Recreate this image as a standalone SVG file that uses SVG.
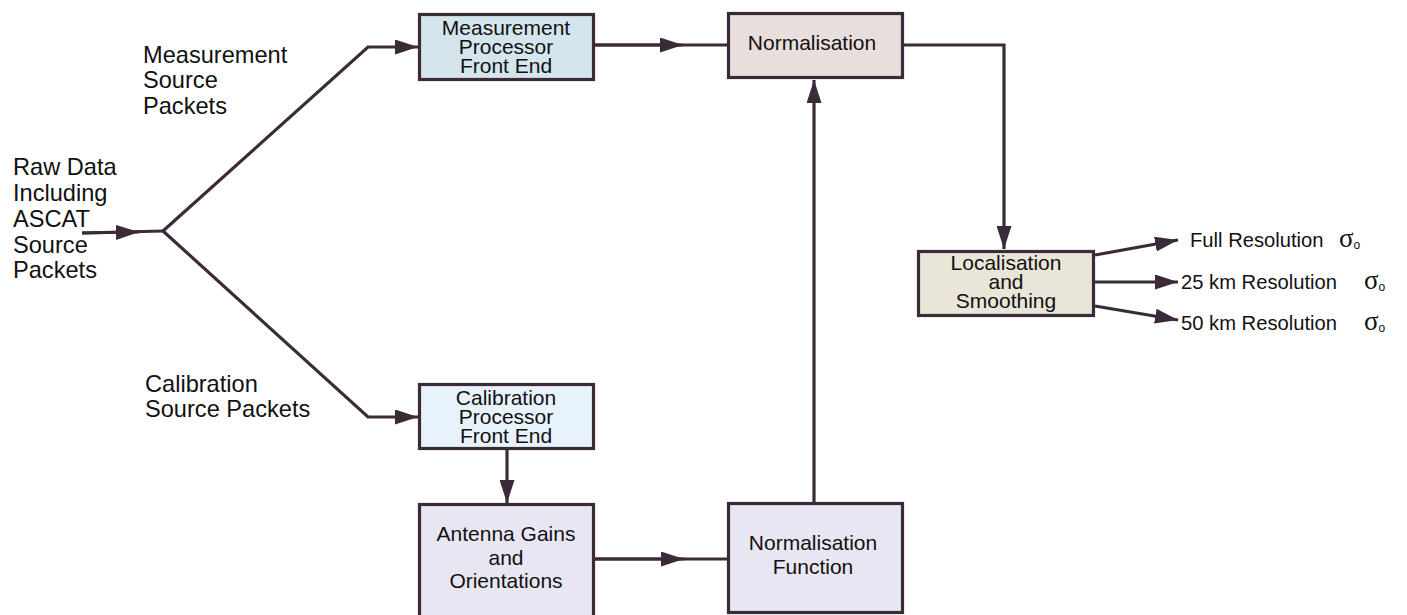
<svg xmlns="http://www.w3.org/2000/svg" width="1407" height="615" viewBox="0 0 1407 615">
<defs>
<style>
.box{stroke:#3b2a37;stroke-width:3.2}
.bt{font-family:"Liberation Sans",Arial,sans-serif;font-size:21px;fill:#111;text-anchor:middle}
.lt{font-family:"Liberation Sans",Arial,sans-serif;font-size:23.6px;fill:#111}
.ot{font-family:"Liberation Sans",Arial,sans-serif;font-size:20.2px;fill:#111}
.sg{font-family:"Liberation Serif","Times New Roman",serif;font-size:27px}
.sub{font-family:"Liberation Sans",Arial,sans-serif;font-size:12px}
.ln{fill:none;stroke:#3b2a37;stroke-width:3.2}
</style>
<marker id="ah" markerUnits="userSpaceOnUse" markerWidth="23" markerHeight="15" refX="23" refY="7.5" orient="auto">
<path d="M0,0 L23,7.5 L0,15 z" fill="#3b2a37"/>
</marker>
</defs>
<rect width="1407" height="615" fill="#ffffff"/>

<g id="connectors">
<path class="ln" d="M82,233 L163,231"/>
<path class="ln" d="M82,233 L139,232" marker-end="url(#ah)"/>
<path class="ln" d="M163,231 L368,47 L418,47" marker-end="url(#ah)"/>
<path class="ln" d="M163,231 L368,417 L418,417" marker-end="url(#ah)"/>
<path class="ln" d="M595,45 L727,45"/>
<path class="ln" d="M595,45 L683,45" marker-end="url(#ah)"/>
<path class="ln" d="M904,45 L1004,45 L1004,249" marker-end="url(#ah)"/>
<path class="ln" d="M814,502 L814,80" marker-end="url(#ah)"/>
<path class="ln" d="M507,450 L507,503" marker-end="url(#ah)"/>
<path class="ln" d="M595,559 L727,559"/>
<path class="ln" d="M595,559 L684,559" marker-end="url(#ah)"/>
<path class="ln" d="M1095,255 L1178,240" marker-end="url(#ah)"/>
<path class="ln" d="M1095,282 L1178,282" marker-end="url(#ah)"/>
<path class="ln" d="M1095,306 L1178,320" marker-end="url(#ah)"/>
</g>

<g id="raw-data">
<text class="lt" x="13" y="175">Raw Data</text>
<text class="lt" x="13" y="201">Including</text>
<text class="lt" x="13" y="227">ASCAT</text>
<text class="lt" x="13" y="253">Source</text>
<text class="lt" x="13" y="278">Packets</text>
</g>

<g id="measurement-source-packets">
<text class="lt" x="143" y="63">Measurement</text>
<text class="lt" x="143" y="88">Source</text>
<text class="lt" x="143" y="114">Packets</text>
</g>

<g id="calibration-source-packets">
<text class="lt" x="145" y="392">Calibration</text>
<text class="lt" x="145" y="417">Source Packets</text>
</g>

<g id="measurement-processor">
<rect class="box" x="419.5" y="14.5" width="174" height="65" fill="#d5e5ee"/>
<text class="bt" x="506" y="35">Measurement</text>
<text class="bt" x="506" y="54">Processor</text>
<text class="bt" x="506" y="73">Front End</text>
</g>

<g id="normalisation">
<rect class="box" x="728.5" y="13.5" width="174" height="64" fill="#e8dedc"/>
<text class="bt" x="812" y="50">Normalisation</text>
</g>

<g id="calibration-processor">
<rect class="box" x="419.5" y="384.5" width="174" height="64" fill="#e8f2fb"/>
<text class="bt" x="506" y="405">Calibration</text>
<text class="bt" x="506" y="424">Processor</text>
<text class="bt" x="506" y="443">Front End</text>
</g>

<g id="antenna-gains">
<rect class="box" x="419.5" y="504.5" width="174" height="116" fill="#e8e6f2"/>
<text class="bt" x="506" y="541">Antenna Gains</text>
<text class="bt" x="506" y="565">and</text>
<text class="bt" x="506" y="588">Orientations</text>
</g>

<g id="normalisation-function">
<rect class="box" x="728.5" y="503.5" width="174" height="109" fill="#e8e6f2"/>
<text class="bt" x="813" y="550">Normalisation</text>
<text class="bt" x="813" y="574">Function</text>
</g>

<g id="localisation">
<rect class="box" x="918.5" y="251.5" width="175" height="64" fill="#e9e5d8"/>
<text class="bt" x="1006" y="270">Localisation</text>
<text class="bt" x="1006" y="289">and</text>
<text class="bt" x="1006" y="308">Smoothing</text>
</g>

<g id="outputs">
<text class="ot" x="1190" y="247">Full Resolution<tspan class="sg" x="1339">σ</tspan><tspan class="sub" dy="2">o</tspan></text>
<text class="ot" x="1181" y="289">25 km Resolution<tspan class="sg" x="1364">σ</tspan><tspan class="sub" dy="2">o</tspan></text>
<text class="ot" x="1181" y="330">50 km Resolution<tspan class="sg" x="1364">σ</tspan><tspan class="sub" dy="2">o</tspan></text>
</g>
</svg>
